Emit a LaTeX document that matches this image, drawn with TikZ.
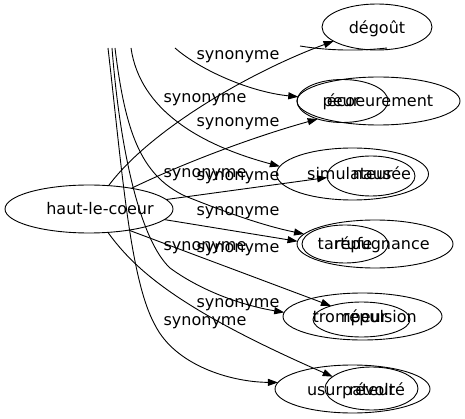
\documentclass[tikz,border=0pt]{standalone}
\usepackage{fontspec}
\setmainfont{DejaVu Sans}
\usetikzlibrary{arrows.meta,shapes.geometric}
\begin{document}
\begin{tikzpicture}[x=1pt,y=-1pt,
  ell/.style={draw, ellipse, inner sep=0pt, outer sep=0pt, line width=0.9pt},
  txt/.style={anchor=base, inner sep=0pt, font=\fontsize{16}{19}\selectfont},
  lab/.style={anchor=base, inner sep=0pt, font=\fontsize{16}{19}\selectfont},
  conn/.style={draw, line width=0.9pt, -{Triangle[length=10pt,width=7pt]}},
  plain/.style={draw, line width=0.9pt},
]
\useasboundingbox (0,0) rectangle (465,419);

% central node
\node[ell, minimum width=168pt, minimum height=48pt] (haut) at (89,209) {};
\node[txt] (hautT) at (100,215) {haut-le-coeur};

% right nodes
\node[ell, minimum width=110pt, minimum height=46pt] (deg) at (377,27) {};
\node[txt] (degT) at (377,34) {dégoût};

\node[ell, minimum width=163pt, minimum height=48pt] (ecoe) at (378.5,101) {};
\node[ell, minimum width=91pt, minimum height=43pt] (peur) at (342.5,101) {};
\node[txt] (ecoeT) at (380,107) {écoeurement};
\node[txt] (peurT) at (341,107) {peur};

\node[ell, minimum width=152pt, minimum height=52pt] (simu) at (352.5,174) {};
\node[ell, minimum width=88pt, minimum height=40pt] (naus) at (371,176) {};
\node[txt] (simuT) at (350,180) {simulateur};
\node[txt] (nausT) at (382,180) {nausée};

\node[ell, minimum width=156pt, minimum height=48pt] (repug) at (375,244) {};
\node[ell, minimum width=86pt, minimum height=38pt] (tart) at (345,244) {};
\node[txt] (repugT) at (382,250) {répugnance};
\node[txt] (tartT) at (345,250) {tartufe};

\node[ell, minimum width=159pt, minimum height=47pt] (tromp) at (362.5,316.5) {};
\node[ell, minimum width=97pt, minimum height=35pt] (repul) at (361.5,319.5) {};
\node[txt] (trompT) at (350,322) {trompeur};
\node[txt] (repulT) at (380,322) {répulsion};

\node[ell, minimum width=155pt, minimum height=48pt] (usur) at (352.5,389) {};
\node[ell, minimum width=93pt, minimum height=43pt] (revol) at (371.5,388.5) {};
\node[txt] (usurT) at (351,395) {usurpateur};
\node[txt] (revolT) at (377,395) {révolté};

% free ends at the top
\coordinate (t1) at (108,48);
\coordinate (t2) at (112,48);
\coordinate (t3) at (115,48);
\coordinate (t4) at (131,48);
\coordinate (t5) at (175,48);
\coordinate (s1) at (300,46);
\coordinate (s2) at (387,48);

% connectors
\path[conn] (haut.50.4) .. controls (150,130) and (250,72) .. (deg.198.8);
\path[conn] (t5) .. controls (200,70) and (250,92) .. (ecoe.177);
\path[conn] (haut.26) .. controls (190,160) and (260,135) .. (peur.216.3);
\path[conn] (t4) .. controls (140,110) and (200,145) .. (simu.174);
\path[conn] (haut.7.5) -- (naus.182.7);
\path[conn] (t3) .. controls (125,130) and (140,175) .. (185,196) .. controls (220,210) and (260,225) .. (repug.172.7);
\path[conn] (haut.352.5) -- (repug.178);
\path[conn] (haut.332.4) -- (repul.156.3);
\path[conn] (t2) .. controls (120,150) and (140,240) .. (170,268) .. controls (200,290) and (240,305) .. (tromp.177.5);
\path[conn] (haut.309.6) .. controls (135,270) and (180,310) .. (revol.163.2);
\path[conn] (t1) .. controls (122,170) and (130,280) .. (155,325) .. controls (175,365) and (230,382) .. (usur.175.9);
\path[plain] (s1) .. controls (330,51) and (360,51) .. (s2);

% edge labels
\node[lab] (l1) at (238,60) {synonyme};
\node[lab] (l2) at (205,103) {synonyme};
\node[lab] (l3) at (238,127) {synonyme};
\node[lab] (l4) at (205,178) {synonyme};
\node[lab] (l5) at (238,181) {synonyme};
\node[lab] (l6) at (238,216) {synonyme};
\node[lab] (l7) at (205,251) {synonyme};
\node[lab] (l8) at (238,253) {synonyme};
\node[lab] (l9) at (238,307) {synonyme};
\node[lab] (l10) at (205,325) {synonyme};
\end{tikzpicture}
\end{document}
